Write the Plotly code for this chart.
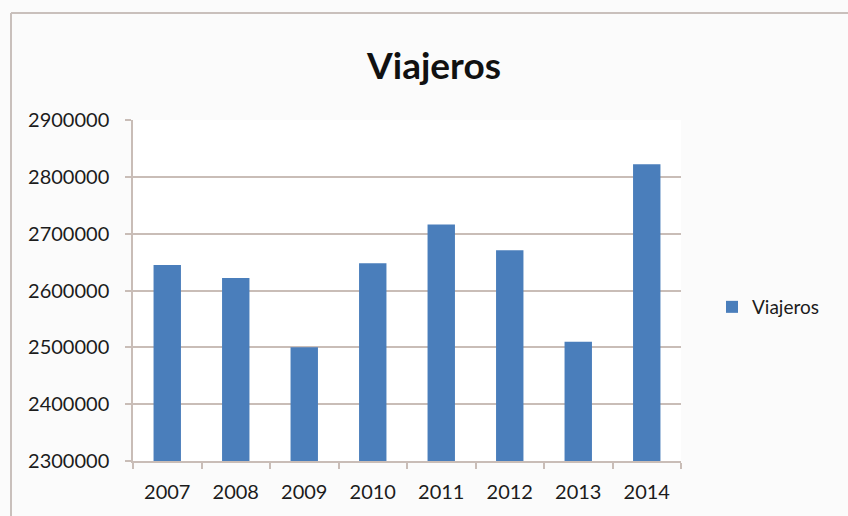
import plotly.graph_objects as go

years = ["2007", "2008", "2009", "2010", "2011", "2012", "2013", "2014"]
viajeros = [2645000, 2622000, 2500000, 2648000, 2716000, 2671000, 2510000, 2822000]
y_ticks = [2300000, 2400000, 2500000, 2600000, 2700000, 2800000, 2900000]

W, H = 848, 516
L, R, T, B = 133, 167, 120, 55
pw, ph = W - L - R, H - T - B

def px_x(p):
    return (p - L) / pw

def px_y(p):
    return (H - B - p) / ph

grid = "#c9bdb7"
font = "Lato, 'Open Sans', sans-serif"
txt = "#1c1c1c"

fig = go.Figure(
    go.Bar(
        x=years,
        y=viajeros,
        name="Viajeros",
        marker=dict(color="#4a7ebb", line=dict(width=0)),
        width=0.4,
        showlegend=True,
    )
)

fig.update_layout(
    width=W,
    height=H,
    margin=dict(l=L, r=R, t=T, b=B),
    paper_bgcolor="#fbfbfb",
    plot_bgcolor="#ffffff",
    title=dict(
        text="<b>Viajeros</b>",
        x=px_x(434), xref="paper", xanchor="center",
        y=1 - 66 / H, yref="container", yanchor="middle",
        font=dict(family=font, size=37, color="#111111"),
    ),
    legend=dict(
        x=px_x(712), xref="paper", xanchor="left",
        y=px_y(307), yref="paper", yanchor="middle",
        font=dict(family=font, size=19, color=txt),
        bgcolor="rgba(0,0,0,0)",
        itemwidth=30,
    ),
    xaxis=dict(
        type="category",
        showgrid=False,
        showline=True, linecolor=grid, linewidth=1.5,
        ticks="outside", ticklen=6, tickcolor=grid, tickwidth=1.5,
        tickson="boundaries",
        ticklabelstandoff=12,
        tickfont=dict(family=font, size=20, color=txt),
    ),
    yaxis=dict(
        range=[2300000, 2900000],
        tickvals=y_ticks,
        ticktext=[str(v) for v in y_ticks],
        showgrid=True, gridcolor=grid, gridwidth=1.5,
        showline=True, linecolor=grid, linewidth=1.5,
        ticks="outside", ticklen=6, tickcolor=grid, tickwidth=1.5,
        ticklabelstandoff=12,
        zeroline=False,
        tickfont=dict(family=font, size=20, color=txt),
    ),
    shapes=[
        dict(type="line", xref="paper", yref="paper",
             x0=px_x(11), x1=px_x(11), y0=px_y(13), y1=px_y(516),
             line=dict(color="#c9c0bc", width=2)),
        dict(type="line", xref="paper", yref="paper",
             x0=px_x(11), x1=px_x(848), y0=px_y(13), y1=px_y(13),
             line=dict(color="#c9c0bc", width=2)),
    ],
)

fig.write_html("out.html")
